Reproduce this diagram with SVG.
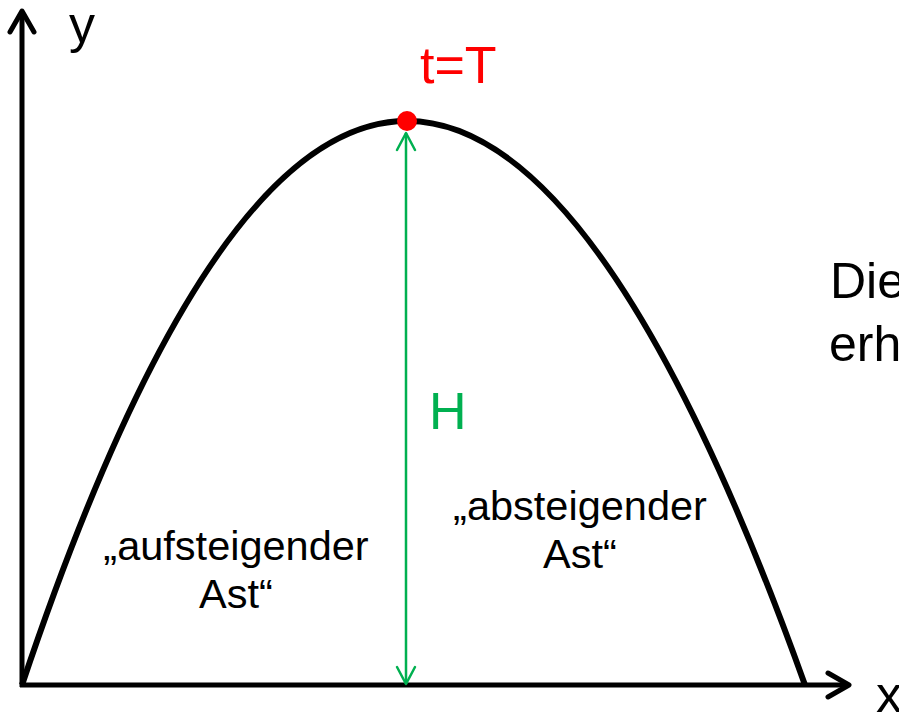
<svg xmlns="http://www.w3.org/2000/svg" width="899" height="712" viewBox="0 0 899 712">
<style>
.txt{font-family:"Liberation Sans",Arial,sans-serif}
.axis{stroke:#000;stroke-width:5;fill:none}
.curve{stroke:#000;stroke-width:6;fill:none}
.green{stroke:#00B050;stroke-width:2.5;fill:none}
</style>
<defs>
<marker id="axisHead" markerUnits="userSpaceOnUse" viewBox="-25 -15 30 30" refX="0" refY="0" markerWidth="30" markerHeight="30" orient="auto">
<path d="M-21,-12 L0,0 L-21,12" fill="none" stroke="#000" stroke-width="5" stroke-linecap="round" stroke-linejoin="round"/>
</marker>
<marker id="greenHead" markerUnits="userSpaceOnUse" viewBox="-20 -12 24 24" refX="0" refY="0" markerWidth="24" markerHeight="24" orient="auto-start-reverse">
<path d="M-17,-9 L0,0 L-17,9" fill="none" stroke="#00B050" stroke-width="2.5" stroke-linecap="round" stroke-linejoin="round"/>
</marker>
</defs>
<rect width="899" height="712" fill="#fff"/>
<g id="connectors">
<path id="y-axis" class="axis" d="M22,687 L22,11" marker-end="url(#axisHead)"/>
<path id="x-axis" class="axis" d="M20,685 L849,685" marker-end="url(#axisHead)"/>
<path id="parabola" class="curve" d="M22,685 Q400.5,-443 805,685"/>
<path id="height-arrow" class="green" d="M406,133 L406,684" marker-start="url(#greenHead)" marker-end="url(#greenHead)"/>
</g>
<g id="apex">
<circle cx="407" cy="121" r="10" fill="#FF0000"/>
<text class="txt" x="420" y="83" font-size="52" fill="#FF0000">t=T</text>
</g>
<g id="label-y"><text class="txt" x="69" y="42" font-size="52" fill="#000">y</text></g>
<g id="label-x"><text class="txt" x="876" y="712" font-size="52" fill="#000">x</text></g>
<g id="label-H"><text class="txt" x="429" y="429" font-size="52" fill="#00B050">H</text></g>
<g id="label-auf">
<text class="txt" font-size="41.5" fill="#000" text-anchor="middle"><tspan x="236" y="560">„aufsteigender</tspan><tspan x="236" y="608">Ast“</tspan></text>
</g>
<g id="label-ab">
<text class="txt" font-size="41.5" fill="#000" text-anchor="middle"><tspan x="580" y="520">„absteigender</tspan><tspan x="580" y="568">Ast“</tspan></text>
</g>
<g id="side-text">
<text class="txt" font-size="50" fill="#000"><tspan x="830" y="298">Die</tspan><tspan x="829" y="361">erh</tspan></text>
</g>
</svg>
